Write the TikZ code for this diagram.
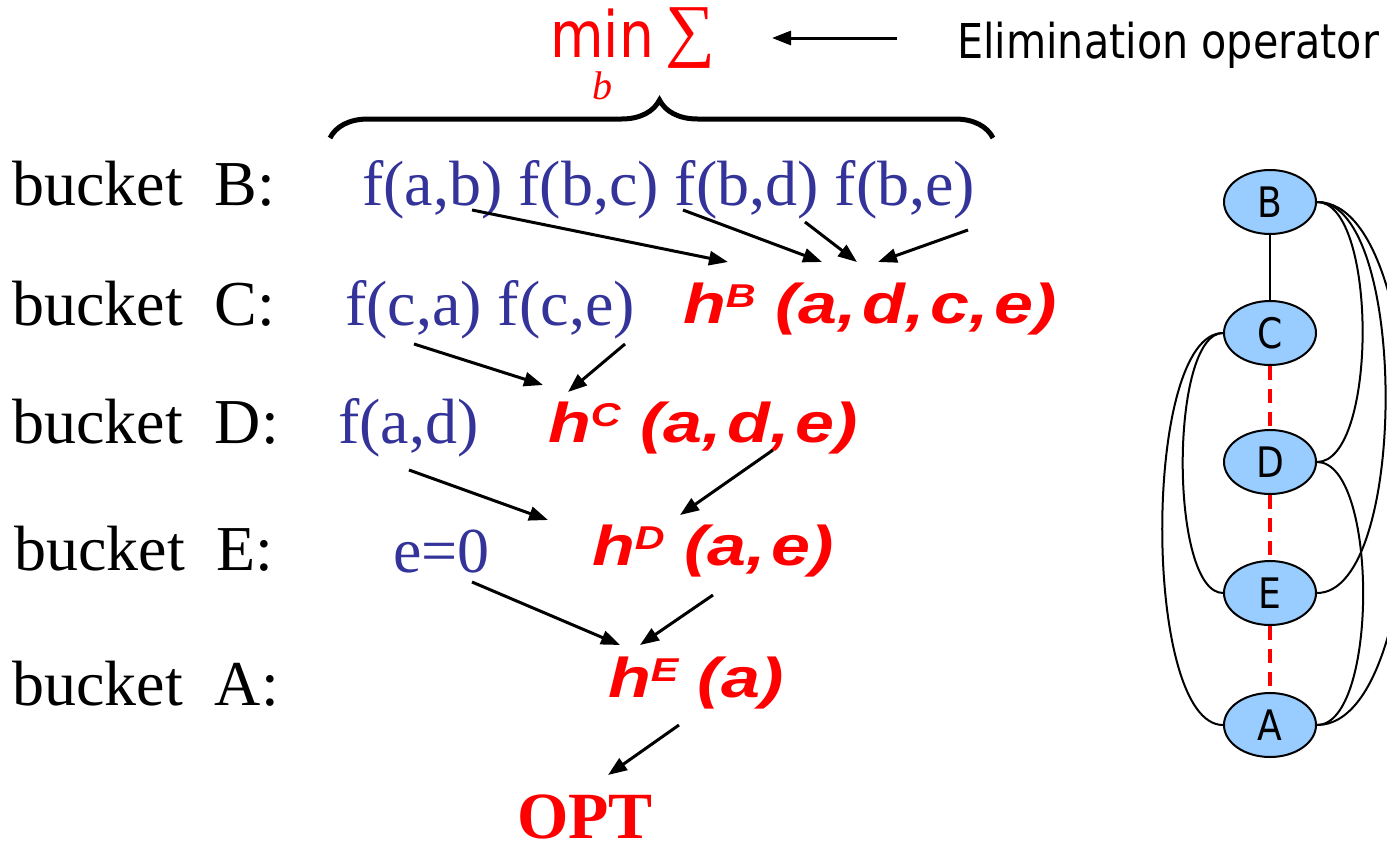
\documentclass[tikz,border=0pt]{standalone}
\usepackage{fontspec}
\setmainfont{Liberation Serif}
\newfontfamily\hsans{Liberation Sans}[FakeStretch=1.25]
\newfontfamily\tah{DejaVu Sans}[FakeStretch=0.86]
\usetikzlibrary{arrows.meta,shapes.geometric,decorations.pathreplacing}
\definecolor{fblue}{RGB}{51,51,153}
\definecolor{nodeblue}{RGB}{153,204,255}
\newcommand\hsup[1]{\raisebox{16pt}{\fontsize{33}{33}\selectfont #1}}
\newcommand\cs{,\hspace{0.1em}}
\begin{document}
\begin{tikzpicture}[x=1pt,y=-1pt,
  lbl/.style={anchor=base west, inner sep=0, font=\fontsize{64}{64}\selectfont},
  fb/.style={anchor=base west, inner sep=0, text=fblue, font=\fontsize{64}{64}\selectfont},
  hh/.style={anchor=base west, inner sep=0, text=red, font=\hsans\bfseries\itshape\fontsize{56}{56}\selectfont},
  arr/.style={line width=3pt, -{Triangle[length=19pt,width=14pt]}},
  gnode/.style={ellipse, draw, line width=2pt, fill=nodeblue, minimum width=92pt, minimum height=64pt, inner sep=0, font=\tah\fontsize{42}{42}\selectfont},
  gedge/.style={line width=2pt},
  redge/.style={line width=3.5pt, red, dash pattern=on 14pt off 9pt}
]
\useasboundingbox (0,0) rectangle (1387,846);
\clip (0,0) rectangle (1387,846);

% top operator
\node[anchor=base west, inner sep=0, text=red, font=\tah\fontsize{64}{64}\selectfont] (min) at (550,57) {min};
\node[anchor=base west, inner sep=0, text=red, font=\fontsize{70}{70}\selectfont] (sum) at (665,53) {∑};
\node[anchor=base west, inner sep=0, text=red, font=\itshape\fontsize{40}{40}\selectfont] (sub) at (592,99) {b};
\node[anchor=base west, inner sep=0, font=\tah\fontsize{48}{48}\selectfont] (elim) at (957,58) {Elimination operator};
\coordinate (elimS) at (897,38);
\coordinate (elimE) at (772,38);
\draw[arr] (elimS) -- (elimE);

% brace
\coordinate (brL) at (330,138);
\coordinate (brR) at (993,138);
\draw[line width=5pt, decorate, decoration={brace, amplitude=38pt, aspect=0.497}] (brL) -- (brR);

% bucket labels
\node[lbl] (bB) at (12,205) {bucket\ \ B:};
\node[lbl] (bC) at (12,325) {bucket\ \ C:};
\node[lbl] (bD) at (12,443) {bucket\ \ D:};
\node[lbl] (bE) at (14,570) {bucket\ \ E:};
\node[lbl] (bA) at (12,705) {bucket\ \ A:};

% functions
\node[fb] (fB) at (362,205) {f(a,b) f(b,c) f(b,d) f(b,e)};
\node[fb] (fC) at (345,325) {f(c,a) f(c,e)};
\node[fb] (fD) at (338,443) {f(a,d)};
\node[fb] (fE) at (393,572) {e=0};

% messages
\node[hh] (hB) at (683,323) {h\hsup{B} (a\cs d\cs c\cs e)};
\node[hh] (hC) at (548,442) {h\hsup{C} (a\cs d\cs e)};
\node[hh] (hD) at (592,565) {h\hsup{D} (a\cs e)};
\node[hh] (hE) at (608,697) {h\hsup{E} (a)};
\node[anchor=base west, inner sep=0, text=red, font=\bfseries\fontsize{66}{66}\selectfont] (opt) at (517,838) {OPT};

% arrow end points
\coordinate (a1s) at (472,210); \coordinate (a1e) at (728,262);
\coordinate (a2s) at (683,210); \coordinate (a2e) at (822,262);
\coordinate (a3s) at (805,222); \coordinate (a3e) at (857,262);
\coordinate (a4s) at (968,230); \coordinate (a4e) at (878,262);
\coordinate (a5s) at (414,344); \coordinate (a5e) at (543,385);
\coordinate (a6s) at (625,344); \coordinate (a6e) at (568,392);
\coordinate (a7s) at (409,470); \coordinate (a7e) at (548,520);
\coordinate (a8s) at (773,450); \coordinate (a8e) at (680,515);
\coordinate (a9s) at (472,582); \coordinate (a9e) at (620,645);
\coordinate (a10s) at (713,595); \coordinate (a10e) at (640,645);
\coordinate (a11s) at (679,725); \coordinate (a11e) at (608,775);
\foreach \i in {1,...,11} { \draw[arr] (a\i s) -- (a\i e); }

% graph
\node[gnode] (B) at (1270,202) {B};
\node[gnode] (C) at (1270,333) {C};
\node[gnode] (D) at (1270,462) {D};
\node[gnode] (E) at (1270,593) {E};
\node[gnode] (A) at (1270,725) {A};
\draw[gedge] (B) -- (C);
\draw[redge] (C) -- (D);
\draw[redge] (D) -- (E);
\draw[redge] (E) -- (A);
\draw[gedge] (B.east) to[out=0,in=0,looseness=0.6] (D.east);
\draw[gedge] (B.east) to[out=0,in=0,looseness=0.6] (E.east);
\draw[gedge] (B.east) to[out=0,in=0,looseness=0.6] (A.east);
\draw[gedge] (D.east) to[out=0,in=0,looseness=0.6] (A.east);
\draw[gedge] (C.west) to[out=180,in=180,looseness=0.53] (E.west);
\draw[gedge] (C.west) to[out=180,in=180,looseness=0.53] (A.west);
\end{tikzpicture}
\end{document}
